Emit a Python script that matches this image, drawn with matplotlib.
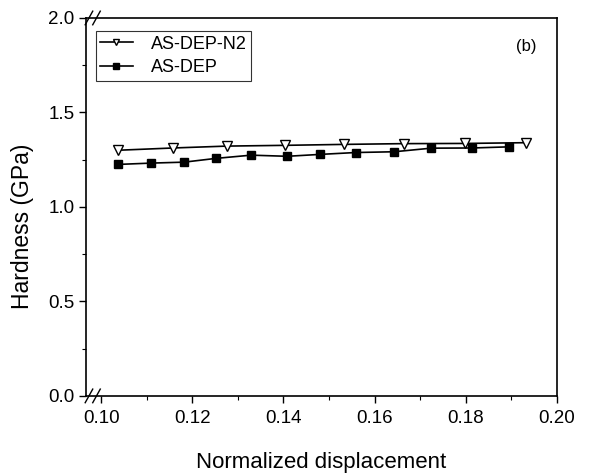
import matplotlib
matplotlib.use("Agg")
import matplotlib.pyplot as plt
from matplotlib.ticker import MultipleLocator

plt.rcParams['font.family'] = ['Liberation Sans', 'DejaVu Sans']

# Data
x_n2 = [0.1037, 0.1158, 0.1276, 0.1404, 0.1533, 0.1664, 0.1798, 0.1932]
h_n2 = [1.300, 1.312, 1.322, 1.326, 1.331, 1.335, 1.336, 1.340]
x_dep = [0.1037, 0.1110, 0.1182, 0.1252, 0.1329, 0.1408, 0.1480, 0.1559,
         0.1643, 0.1724, 0.1814, 0.1895]
h_dep = [1.225, 1.232, 1.237, 1.257, 1.274, 1.268, 1.278, 1.288,
         1.292, 1.311, 1.312, 1.318]
xticks = [0.10, 0.12, 0.14, 0.16, 0.18, 0.20]
yticks = [0.0, 0.5, 1.0, 1.5, 2.0]

fig = plt.figure(figsize=(5.9, 4.73), dpi=100)
ax = fig.add_axes([0.146, 0.163, 0.798, 0.799])

ax.plot(x_n2, h_n2, color='black', lw=1.2, marker='v', ms=7,
        mfc='white', mec='black', mew=1.0, label='AS-DEP-N2')
ax.plot(x_dep, h_dep, color='black', lw=1.2, marker='s', ms=6,
        mfc='black', mec='black', label='AS-DEP')

ax.set_xlim(0.0967, 0.20)
ax.set_ylim(0.0, 2.0)
ax.set_xticks(xticks)
ax.set_xticklabels([f"{v:.2f}" for v in xticks])
ax.set_yticks(yticks)
ax.set_yticklabels([f"{v:.1f}" for v in yticks])
ax.xaxis.set_minor_locator(MultipleLocator(0.01))
ax.yaxis.set_minor_locator(MultipleLocator(0.25))
ax.tick_params(which='major', direction='out', length=5, width=1.0,
               labelsize=13.5, top=False, right=False)
ax.tick_params(axis='x', which='major', pad=5)
ax.tick_params(which='minor', direction='out', length=3, width=0.8,
               top=False, right=False)
for s in ax.spines.values():
    s.set_linewidth(1.2)

ax.set_xlabel('Normalized displacement', fontsize=16, labelpad=18)
ax.set_ylabel('Hardness (GPa)', fontsize=16.5)
ax.yaxis.set_label_coords(-0.11, 0.45)

leg = ax.legend(loc='upper left', bbox_to_anchor=(0.02, 0.965), fontsize=13,
                frameon=True, fancybox=False, edgecolor='black',
                handlelength=1.8, handletextpad=1.0, borderpad=0.25,
                labelspacing=0.35, borderaxespad=0.0, markerscale=0.65)
leg.get_frame().set_linewidth(0.8)

ax.text(0.935, 0.925, '(b)', transform=ax.transAxes, fontsize=12,
        ha='center', va='center')

# axis break marks
for yb in (0.0, 1.0):
    for dx in (0.006, 0.022):
        ax.plot([dx - 0.008, dx + 0.008], [yb - 0.018, yb + 0.018],
                transform=ax.transAxes, color='black', lw=1.0, clip_on=False)

fig.savefig('out.png', dpi=100)
